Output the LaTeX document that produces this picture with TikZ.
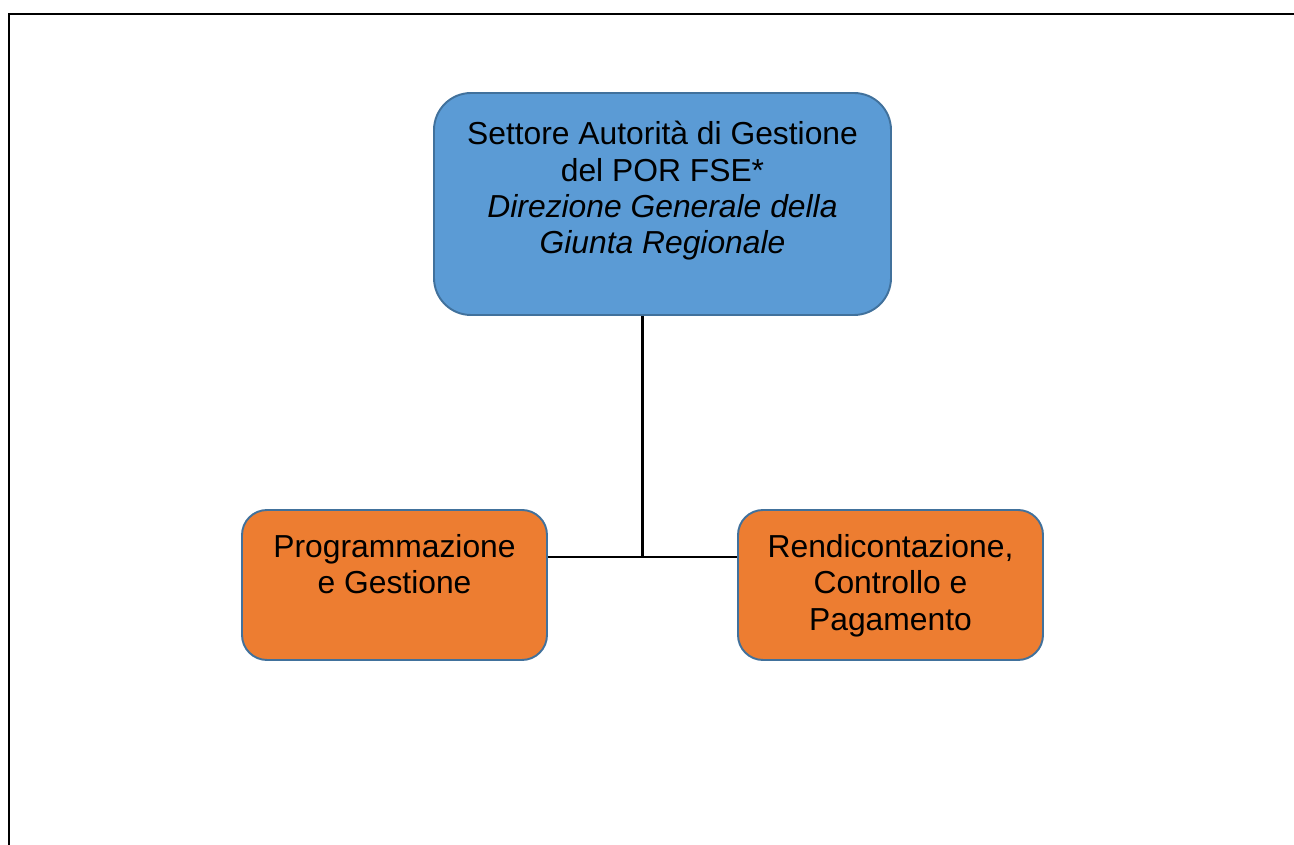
\documentclass[tikz,border=0pt]{standalone}
\usepackage{fontspec}
\setmainfont{Liberation Sans}
\usetikzlibrary{positioning}
\definecolor{mblue}{RGB}{91,155,213}
\definecolor{morange}{RGB}{237,125,49}
\definecolor{mborder}{RGB}{65,113,156}

\begin{document}
\begin{tikzpicture}[
    head/.style={rectangle, rounded corners=0.74cm, draw=mborder, fill=mblue, line width=1.1pt, minimum width=9.14cm, minimum height=4.44cm},
    unit/.style={rectangle, rounded corners=0.5cm, draw=mborder, fill=morange, line width=1.1pt, minimum width=6.1cm, minimum height=3cm},
    box_text/.style={align=center, inner sep=0pt, font=\fontsize{18.1}{20.7}\selectfont},
    link_main/.style={line width=1.7pt},
    link_side/.style={line width=1.1pt},
    ]
\useasboundingbox (0,0) rectangle (25.88,-16.9);

% page frame
\draw[line width=1.2pt] (0.18,-16.9) -- (0.18,-0.28) -- (25.88,-0.28);

\node[head] (ag) at (13.25,-4.08) {};
\node[unit] (prog) at (7.89,-11.7) {};
\node[unit] (rend) at (17.81,-11.7) {};

\node[box_text, below=0.58cm of ag.north] (ag_txt) {Settore Autorità di Gestione\\del POR FSE*\\\textit{Direzione Generale della}\\\textit{Giunta Regionale}};
\node[box_text, below=0.5cm of prog.north] (prog_txt) {Programmazione\\e Gestione};
\node[box_text, below=0.5cm of rend.north] (rend_txt) {Rendicontazione,\\Controllo e\\Pagamento};

\coordinate (split) at (12.85,-11.14);
\draw[link_main] (split |- ag.south) -- (split);
\draw[link_side] (prog.east |- split) -- (rend.west |- split);

\end{tikzpicture}
\end{document}
